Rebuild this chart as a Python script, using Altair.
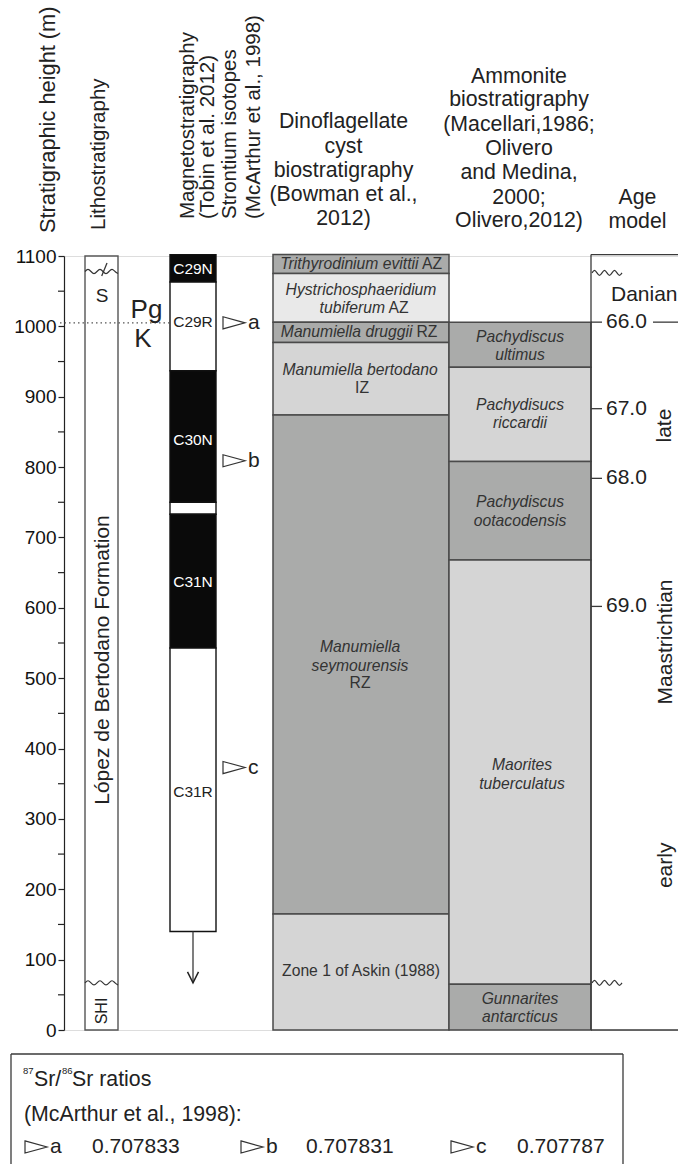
import altair as alt
import pandas as pd

# ------------------------------------------------------------------ data
HEIGHT_TICKS = [0, 100, 200, 300, 400, 500, 600, 700, 800, 900, 1000, 1100]
HEIGHT_MINOR = [50, 150, 250, 350, 450, 550, 650, 750, 850, 950, 1050]

LITHO_TOP = 1100
LITHO_CONTACTS = [67, 1078]          # wavy unconformities (m)
KPG_HEIGHT = 1005                    # K/Pg boundary (m)

CHRON_NAMES = ["C29N", "C29R", "C30N", "", "C31N", "C31R"]
CHRON_TOP = [1102, 1063, 937, 750, 733, 543]
CHRON_BASE = [1063, 937, 750, 733, 543, 140]
CHRON_NORMAL = [True, False, True, False, True, False]
CHRON_LABEL_AT = [1082, 1006, 838, None, 636, 338]
SECTION_CONTINUES_TO = 67

SR_SAMPLES = ["a", "b", "c"]
SR_HEIGHT = [1005, 809, 373]
SR_RATIO = ["0.707833", "0.707831", "0.707787"]

DINO_TOP = [1102, 1075, 1006, 977, 874, 165]
DINO_BASE = [1075, 1006, 977, 874, 165, 0]
DINO_SHADE = ["dark", "pale", "dark", "light", "dark", "light"]

AMMO_TOP = [1006, 942, 808, 668, 65]
AMMO_BASE = [942, 808, 668, 65, 0]
AMMO_SHADE = ["dark", "light", "dark", "light", "dark"]
AMMO_GENUS = ["Pachydiscus", "Pachydisucs", "Pachydiscus", "Maorites", "Gunnarites"]
AMMO_SPECIES = ["ultimus", "riccardii", "ootacodensis", "tuberculatus", "antarcticus"]
AMMO_LABEL_AT = [972, 875, 737, 363, 31]

AGE_LABELS = ["66.0", "67.0", "68.0", "69.0"]
AGE_HEIGHT = [1006, 883, 784, 602]
AGE_TOP = 1102

# ------------------------------------------------------------------ layout
W, H = 678, 1164
PLOT_LEFT, PLOT_TOP, PLOT_H = 64, 256, 774
PX_PER_M = PLOT_H / 1100.0


def ym(py):
    """figure pixel row -> metres on the height scale (layout helper)"""
    return (PLOT_TOP + PLOT_H - py) / PX_PER_M


COL = {"litho": (85, 118), "magneto": (170, 216), "dino": (273, 449),
       "ammo": (449, 591), "age": (591, 678)}
SHADES = {"dark": "#aaabaa", "light": "#d5d5d5", "pale": "#e9e9e9"}
FONT = "Liberation Sans"
INK = "#222222"
ZONE_INK = "#333333"
TRI = "M-1,-0.55L1,0L-1,0.55Z"

XS = alt.Scale(domain=[PLOT_LEFT, W], nice=False, zero=False)
YS = alt.Scale(domain=[0, 1100], nice=False, zero=False)

YAXIS = alt.Axis(values=HEIGHT_TICKS, title=None, grid=False, labelFontSize=19,
                 labelColor="#111111", labelFont=FONT, tickSize=6, tickColor=INK,
                 tickWidth=1.2, domainColor=INK, domainWidth=1.2, labelPadding=2,
                 labelOverlap=False, format="d", orient="left")


def X(f="x"):
    return alt.X(f"{f}:Q", scale=XS, axis=None)


def Y(f="y"):
    return alt.Y(f"{f}:Q", scale=YS, axis=YAXIS)


def rects(df, stroke="#4a4a4a", sw=1.5):
    return alt.Chart(df).mark_rect(stroke=stroke, strokeWidth=sw).encode(
        x=X(), x2=alt.X2("x2"), y=Y(), y2=alt.Y2("y2"),
        fill=alt.Fill("fill:N", scale=None))


def rules(rows, **kw):
    df = pd.DataFrame(rows, columns=["x", "x2", "y", "y2"])
    return alt.Chart(df).mark_rule(**kw).encode(
        x=X(), x2=alt.X2("x2"), y=Y(), y2=alt.Y2("y2"))


def texts(rows, **kw):
    df = pd.DataFrame(rows, columns=["x", "y", "text"])
    kw.setdefault("font", FONT)
    kw.setdefault("color", INK)
    return alt.Chart(df).mark_text(**kw).encode(x=X(), y=Y(), text="text:N")


def points(rows, **kw):
    df = pd.DataFrame(rows, columns=["x", "y"])
    return alt.Chart(df).mark_point(**kw).encode(x=X(), y=Y())


layers = []

# --- dinoflagellate zones
dino = pd.DataFrame({"x": COL["dino"][0], "x2": COL["dino"][1], "y": DINO_TOP,
                     "y2": DINO_BASE, "fill": [SHADES[s] for s in DINO_SHADE]})
layers.append(rects(dino))

# --- ammonite zones
ammo = pd.DataFrame({"x": COL["ammo"][0], "x2": COL["ammo"][1], "y": AMMO_TOP,
                     "y2": AMMO_BASE, "fill": [SHADES[s] for s in AMMO_SHADE]})
layers.append(rects(ammo))

# --- lithostratigraphic column
litho = pd.DataFrame({"x": [COL["litho"][0]], "x2": [COL["litho"][1]], "y": [LITHO_TOP],
                      "y2": [0], "fill": ["#ffffff"]})
layers.append(rects(litho, stroke="#555555", sw=1.4))

# --- magnetostratigraphy
mag = pd.DataFrame({"x": COL["magneto"][0], "x2": COL["magneto"][1], "y": CHRON_TOP,
                    "y2": CHRON_BASE,
                    "fill": ["#0a0a0a" if n else "#ffffff" for n in CHRON_NORMAL]})
layers.append(rects(mag, stroke="#111111", sw=1.4))

# --- K/Pg dotted line
layers.append(rules([(60, COL["magneto"][0], KPG_HEIGHT, KPG_HEIGHT)],
                    color="#555555", strokeWidth=1.3, strokeDash=[1.5, 3]))

# --- minor height ticks
layers.append(rules([(PLOT_LEFT - 6, PLOT_LEFT, m, m) for m in HEIGHT_MINOR],
                    color=INK, strokeWidth=1.2))

# --- age model frame, ticks, arrow, litho leader, legend box
ax0, ax1 = COL["age"]
frame = [(ax0, ax0, 0, AGE_TOP), (ax0, ax1, AGE_TOP, AGE_TOP), (ax0, ax1, 0, 0)]
frame += [(ax0, ax0 + 11, m, m) for m in AGE_HEIGHT]
frame += [(653, ax1, AGE_HEIGHT[0], AGE_HEIGHT[0])]
frame += [(193, 193, CHRON_BASE[-1], SECTION_CONTINUES_TO)]
frame += [(107, 101.7, ym(263), ym(276))]
frame += [(11, 623, ym(1054), ym(1054)), (11, 11, ym(1054), ym(1180)),
          (623, 623, ym(1054), ym(1180))]
layers.append(rules(frame, color="#3a3a3a", strokeWidth=1.3))

# --- wavy unconformity lines
WAVE_LITHO_X = [85, 88, 91, 94, 97, 100, 103, 106, 109, 112, 115, 118]
WAVE_LITHO_D = [0, 3, 0, -3, 0, 3, 0, -3, 0, 3, 0, -3]
WAVE_AGE_X = [592, 594.5, 597, 599.5, 602, 604.5, 607, 609.5, 612, 614.5, 617, 619.5, 622]
WAVE_AGE_D = [0, 3.5, 0, -3.5, 0, 3.5, 0, -3.5, 0, 3.5, 0, -3.5, 0]
wave_rows = []
for g, (xs, ds, base) in enumerate([(WAVE_LITHO_X, WAVE_LITHO_D, LITHO_CONTACTS[1]),
                                     (WAVE_LITHO_X, WAVE_LITHO_D, LITHO_CONTACTS[0]),
                                     (WAVE_AGE_X, WAVE_AGE_D, 1076),
                                     (WAVE_AGE_X, WAVE_AGE_D, 67)]):
    for i, (xx, d) in enumerate(zip(xs, ds)):
        wave_rows.append({"g": g, "i": i, "x": xx, "y": base + d})
waves = pd.DataFrame(wave_rows)
layers.append(alt.Chart(waves).mark_line(interpolate="natural", color="#333333",
                                          strokeWidth=1.2).encode(
    x=X(), y=Y(), detail="g:N", order="i:Q"))

# --- strontium triangles, arrowhead
layers.append(points([(234, m) for m in SR_HEIGHT] +
                     [(36, ym(1147)), (252, ym(1147)), (462, ym(1147))],
                     shape=TRI, filled=False, size=484, color="#333333",
                     strokeWidth=1.2, opacity=1))
layers.append(points([(193, SECTION_CONTINUES_TO)], shape="M-1,-2L0,0L1,-2",
                     filled=False, size=121, color=INK, strokeWidth=1.5, opacity=1))

# --- texts: headers
HEAD = 21.3
layers.append(texts([(48, ym(233), "Stratigraphic height (m)")],
                    angle=270, align="left", baseline="middle", fontSize=21.8))
layers.append(texts([(99, ym(230), "Lithostratigraphy"),
                     (188, ym(219), "Magnetostratigraphy"),
                     (208, ym(219), "(Tobin et al. 2012)"),
                     (230, ym(219), "Strontium isotopes"),
                     (254, ym(219), "(McArthur et al., 1998)")],
                    angle=270, align="left", baseline="middle", fontSize=20.5))
head_rows = []
for t, py in zip(["Dinoflagellate", "cyst", "biostratigraphy", "(Bowman et al.,", "2012)"],
                 [122, 147, 171, 195, 219]):
    head_rows.append((343.5, ym(py), t))
for t, py in zip(["Ammonite", "biostratigraphy", "(Macellari,1986;", "Olivero",
                  "and Medina,", "2000;", "Olivero,2012)"],
                 [77, 100, 125, 149, 173, 198, 221]):
    head_rows.append((519, ym(py), t))
for t, py in zip(["Age", "model"], [198, 222]):
    head_rows.append((637.5, ym(py), t))
layers.append(texts(head_rows, align="center", baseline="middle", fontSize=HEAD))

# --- litho labels
layers.append(texts([(102, ym(302), "S")], align="center", baseline="alphabetic", fontSize=19))
layers.append(texts([(103, ym(660), "López de Bertodano Formation")],
                    angle=270, align="center", baseline="middle", fontSize=21))
layers.append(texts([(102, ym(1011), "SHI")], angle=270, align="center",
                    baseline="middle", fontSize=16))
layers.append(texts([(146.5, ym(318), "Pg"), (143, ym(347), "K")],
                    align="center", baseline="alphabetic", fontSize=26))

# --- chron labels
mag_txt = [(193, m, n) for n, m, nn in zip(CHRON_NAMES, CHRON_LABEL_AT, CHRON_NORMAL)
           if m is not None and nn]
layers.append(texts(mag_txt, align="center", baseline="middle", fontSize=15.5, color="#ffffff"))
mag_txt = [(193, m, n) for n, m, nn in zip(CHRON_NAMES, CHRON_LABEL_AT, CHRON_NORMAL)
           if m is not None and not nn]
layers.append(texts(mag_txt, align="center", baseline="middle", fontSize=15.5, color="#222222"))

# --- Sr sample letters
layers.append(texts([(248, m, s) for s, m in zip(SR_SAMPLES, SR_HEIGHT)],
                    align="left", baseline="middle", fontSize=21))

# --- zone labels
ZS = 15.7
layers.append(texts([(361, 1051, "Hystrichosphaeridium"),
                     (360, 937.5, "Manumiella bertodano"),
                     (360, 544, "Manumiella"), (360, 518, "seymourensis")] +
                    [(520 if g != "Maorites" else 522, m + 13, g)
                     for g, m in zip(AMMO_GENUS, AMMO_LABEL_AT)] +
                    [(520 if g != "Maorites" else 522, m - 13, s)
                     for g, s, m in zip(AMMO_GENUS, AMMO_SPECIES, AMMO_LABEL_AT)],
                    align="center", baseline="middle", fontSize=ZS,
                    fontStyle="italic", color=ZONE_INK))
layers.append(texts([(418.5, 1088, "Trithyrodinium evittii"),
                     (385, 1025.5, "tubiferum"),
                     (412.5, 991.5, "Manumiella druggii")],
                    align="right", baseline="middle", fontSize=ZS,
                    fontStyle="italic", color=ZONE_INK))
layers.append(texts([(422, 1088, "AZ"), (388.5, 1025.5, "AZ"), (416.5, 991.5, "RZ")],
                    align="left", baseline="middle", fontSize=ZS, color=ZONE_INK))
layers.append(texts([(362, 912, "IZ"), (360, 492.5, "RZ"),
                     (361, 84.5, "Zone 1 of Askin (1988)")],
                    align="center", baseline="middle", fontSize=ZS, color=ZONE_INK))

# --- age model labels
layers.append(texts([(606, m, a) for a, m in zip(AGE_LABELS, AGE_HEIGHT)] +
                    [(611, 1044, "Danian")],
                    align="left", baseline="middle", fontSize=21))
layers.append(texts([(665, 859, "late"), (666, 551.5, "Maastrichtian"), (666, 234, "early")],
                    angle=270, align="center", baseline="middle", fontSize=21))

# --- Sr legend
layers.append(texts([(23, ym(1071), "87"), (62, ym(1071), "86")],
                    align="left", baseline="middle", fontSize=9.5))
layers.append(texts([(34, ym(1080), "Sr/"), (72, ym(1080), "Sr ratios"),
                     (24, ym(1115), "(McArthur et al., 1998):")],
                    align="left", baseline="middle", fontSize=21.3))
leg = [(50, ym(1147), SR_SAMPLES[0]), (266, ym(1147), SR_SAMPLES[1]),
       (476, ym(1147), SR_SAMPLES[2]),
       (92, ym(1147), SR_RATIO[0]), (306, ym(1147), SR_RATIO[1]),
       (517, ym(1147), SR_RATIO[2])]
layers.append(texts(leg, align="left", baseline="middle", fontSize=21))

chart = alt.layer(*layers).properties(
    width=W - PLOT_LEFT, height=PLOT_H,
    padding={"left": PLOT_LEFT, "top": PLOT_TOP, "right": 0, "bottom": H - PLOT_TOP - PLOT_H},
    autosize=alt.AutoSizeParams(type="none"),
    background="#ffffff",
).configure_view(stroke=None).configure(font=FONT)

chart.save("out.html", embed_options={"renderer": "svg", "actions": False})
